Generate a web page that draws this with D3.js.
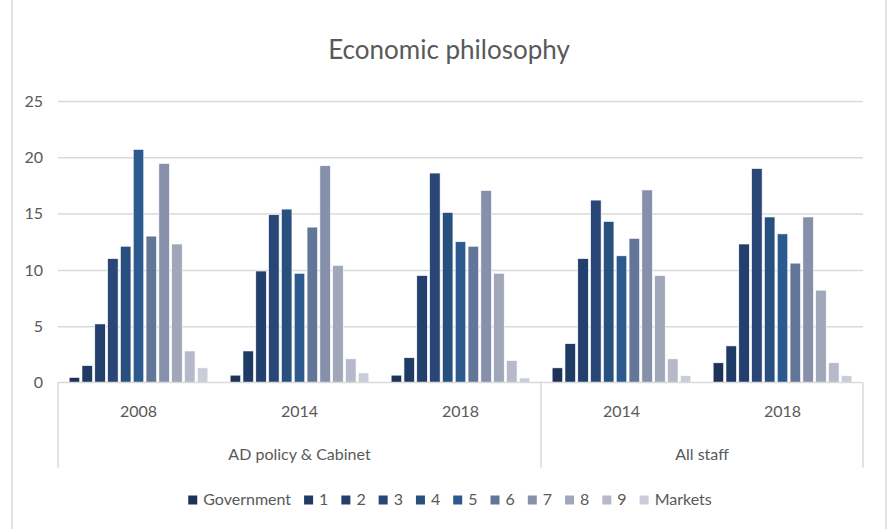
<!DOCTYPE html>
<html>
<head>
<meta charset="utf-8">
<script src="https://cdn.jsdelivr.net/npm/d3@7"></script>
<style>
  html, body { margin: 0; padding: 0; background: #ffffff; }
  svg { display: block; }
  text { font-family: Lato, "Open Sans", sans-serif; fill: #595959; }
</style>
</head>
<body>
<svg id="chart" width="889" height="529"></svg>
<script>
// Survey groups (outer category) and years (inner category)
const groups = ["AD policy & Cabinet", "AD policy & Cabinet", "AD policy & Cabinet", "All staff", "All staff"];
const years = ["2008", "2014", "2018", "2014", "2018"];
const outerLabels = ["AD policy & Cabinet", "All staff"];

// Scale positions from Government (0) to Markets (10)
const seriesNames = ["Government", "1", "2", "3", "4", "5", "6", "7", "8", "9", "Markets"];

// Percentage of respondents at each point, one array per survey column
const adPolicy2008 = [0.45, 1.5, 5.2, 11.0, 12.1, 20.7, 13.0, 19.45, 12.3, 2.8, 1.3];
const adPolicy2014 = [0.65, 2.8, 9.9, 14.9, 15.4, 9.7, 13.8, 19.25, 10.4, 2.1, 0.85];
const adPolicy2018 = [0.65, 2.2, 9.5, 18.6, 15.1, 12.5, 12.1, 17.05, 9.7, 1.95, 0.4];
const allStaff2014 = [1.3, 3.45, 11.0, 16.2, 14.3, 11.25, 12.8, 17.1, 9.5, 2.1, 0.6];
const allStaff2018 = [1.75, 3.25, 12.3, 19.0, 14.7, 13.2, 10.6, 14.7, 8.2, 1.75, 0.6];
const columns = [adPolicy2008, adPolicy2014, adPolicy2018, allStaff2014, allStaff2018];

const yTicks = [0, 5, 10, 15, 20, 25];

const palette = ["#1d3159", "#203a66", "#233f6d", "#2a4677", "#27507f", "#2d5a8e",
                 "#63769a", "#8790ab", "#a0a7b8", "#b5b9ca", "#cacdd9"];

const svg = d3.select("#chart");
const W = 889, H = 529;
const plotLeft = 58, plotRight = 863, plotTop = 101, plotBottom = 382.5;
const gridColor = "#d9d9d9";

// Chart frame (left and right edges visible)
svg.append("line").attr("x1", 12).attr("x2", 12).attr("y1", 0).attr("y2", H)
  .attr("stroke", gridColor).attr("stroke-width", 1.5);
svg.append("line").attr("x1", 886).attr("x2", 886).attr("y1", 0).attr("y2", H)
  .attr("stroke", gridColor).attr("stroke-width", 1.5);

// Title
svg.append("text").attr("x", 449).attr("y", 59).attr("text-anchor", "middle")
  .style("font-size", "26px").text("Economic philosophy");

const colIdx = d3.range(columns.length);
const x0 = d3.scaleBand().domain(colIdx).range([plotLeft, plotRight]).padding(0);
const x1 = d3.scaleBand().domain(d3.range(seriesNames.length))
  .range([0, x0.bandwidth()]).paddingInner(0.18).paddingOuter(0.87);
const y = d3.scaleLinear().domain([0, 25]).range([plotBottom, plotTop]);
const color = d3.scaleOrdinal().domain(d3.range(seriesNames.length)).range(palette);

// Gridlines and y tick labels
const yAxis = d3.axisLeft(y).tickValues(yTicks).tickSize(-(plotRight - plotLeft)).tickPadding(15);
const ya = svg.append("g").attr("transform", `translate(${plotLeft},0)`).call(yAxis);
ya.select(".domain").remove();
ya.selectAll(".tick line").attr("stroke", gridColor).attr("stroke-width", 1.5);
ya.selectAll(".tick text").style("font-size", "16px").style("font-family", "Lato, sans-serif")
  .attr("fill", "#595959").attr("x", 43 - plotLeft).attr("text-anchor", "end");
ya.selectAll(".tick").filter(d => d === 0).select("line").remove();

// Bars
const colG = svg.append("g").selectAll("g").data(colIdx).join("g")
  .attr("transform", d => `translate(${x0(d)},0)`);
colG.selectAll("rect")
  .data(c => columns[c].map((v, i) => ({ i, v })))
  .join("rect")
  .attr("x", d => x1(d.i))
  .attr("width", x1.bandwidth())
  .attr("y", d => y(d.v))
  .attr("height", d => y(0) - y(d.v))
  .attr("fill", d => color(d.i))
  .attr("stroke", "#ffffff").attr("stroke-width", 0.6);

// Category axis: baseline plus multi-level boxes
const axisG = svg.append("g");
axisG.append("line").attr("x1", plotLeft).attr("x2", plotRight)
  .attr("y1", plotBottom).attr("y2", plotBottom)
  .attr("stroke", gridColor).attr("stroke-width", 1.5);

// Year labels under each column
const xAxis = d3.axisBottom(x0).tickFormat(i => years[i]).tickSize(0).tickPadding(0);
const xa = svg.append("g").attr("transform", `translate(0,${plotBottom})`).call(xAxis);
xa.select(".domain").remove();
xa.selectAll(".tick text").style("font-size", "16px").style("font-family", "Lato, sans-serif")
  .attr("fill", "#595959").attr("dy", null).attr("y", 34);

// Outer group labels and their dividers
const outerSpans = outerLabels.map(name => {
  const idx = colIdx.filter(i => groups[i] === name);
  return { name, x0: x0(idx[0]), x1: x0(idx[idx.length - 1]) + x0.bandwidth() };
});
const dividers = [plotLeft].concat(outerSpans.map(s => s.x1));
axisG.selectAll("line.div").data(dividers).join("line").attr("class", "div")
  .attr("x1", d => d).attr("x2", d => d).attr("y1", plotBottom).attr("y2", 467.5)
  .attr("stroke", gridColor).attr("stroke-width", 1.5);
axisG.selectAll("text.outer").data(outerSpans).join("text").attr("class", "outer")
  .attr("x", d => (d.x0 + d.x1) / 2).attr("y", 460).attr("text-anchor", "middle")
  .style("font-size", "16px").text(d => d.name);

// Legend, centred under the chart
const legend = svg.append("g");
const items = legend.selectAll("g").data(seriesNames).join("g");
items.append("rect").attr("width", 9).attr("height", 9).attr("y", -9.5)
  .attr("fill", (d, i) => color(i));
items.append("text").attr("x", 15).attr("y", 0).style("font-size", "16px").text(d => d);
const itemGap = 13;
let cursor = 0;
items.each(function () {
  const w = d3.select(this).select("text").node().getComputedTextLength();
  d3.select(this).attr("data-x", cursor);
  cursor += 15 + w + itemGap;
});
const total = cursor - itemGap;
const startX = 450 - total / 2;
items.attr("transform", function () {
  return `translate(${startX + (+d3.select(this).attr("data-x"))},505)`;
});
</script>
</body>
</html>
